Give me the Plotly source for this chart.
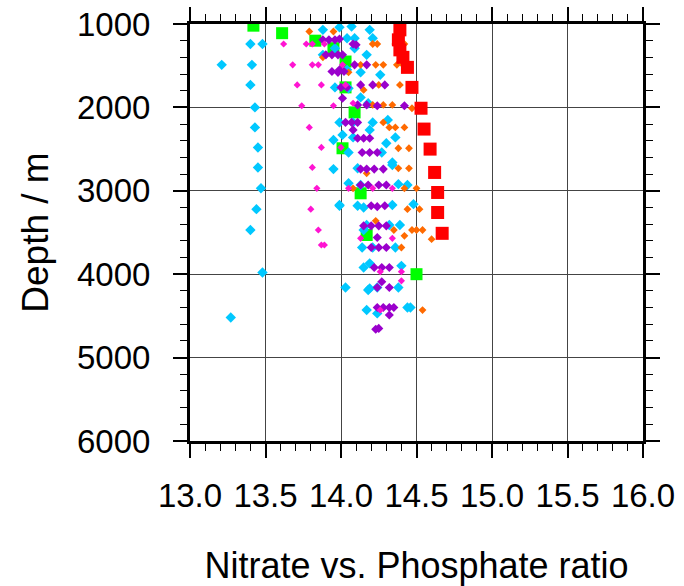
import plotly.graph_objects as go

# ratio values and depths
cyan_ratio = [13.40, 13.48, 13.21, 13.41, 13.40, 13.43, 13.43, 13.45, 13.45, 13.47, 13.44, 13.40, 13.48, 13.27,
              13.88, 13.88, 13.95, 13.99, 14.03,
              13.99, 14.07, 14.19, 14.04, 14.09, 14.21, 13.96, 14.09, 14.17, 14.04, 14.13, 14.26, 13.96, 14.05,
              14.13, 14.18, 13.99, 14.08, 14.21, 14.31, 14.19, 14.01, 14.08, 14.30, 14.36, 13.95, 14.05, 14.27,
              14.34, 14.11, 14.34, 14.05, 14.13, 14.38, 14.44, 13.99, 14.11, 14.15, 14.34, 14.48, 14.17, 14.32,
              14.39, 14.15, 14.14, 14.21, 14.36, 14.15, 14.19, 14.40, 14.19, 14.24, 14.38, 14.17, 14.24, 14.44,
              14.46, 14.18]
cyan_depth = [1240, 1240, 1490, 1490, 1730, 2000, 2240, 2480, 2720, 2970, 3220, 3470, 3980, 4520,
              1070, 1370, 2740, 3180, 4160,
              1040, 1030, 1070, 1170, 1170, 1170, 1290, 1290, 1370, 1550, 1580, 1610, 1760, 1770,
              1880, 1950, 2180, 2180, 2180, 2150, 2270, 2330, 2360, 2430, 2360, 2390, 2540, 2540,
              2660, 2730, 2690, 2910, 2930, 2920, 2930, 3170, 3180, 3200, 3170, 3160, 3410, 3410,
              3410, 3470, 3680, 3680, 3680, 3920, 3870, 3900, 4170, 4160, 4160, 4430, 4470, 4400,
              4400, 4190]

purple_ratio = [13.88, 13.92, 13.96, 13.99, 14.08, 14.10,
                13.90, 13.94, 13.98, 14.01,
                14.09, 14.17, 13.99, 13.94, 13.98, 14.02,
                14.00, 14.04, 14.13, 14.21, 14.29,
                14.01, 14.11, 14.17, 14.24, 14.42,
                14.03, 14.07, 14.11, 14.08, 14.11, 14.15, 14.19, 14.14, 14.19, 14.24,
                14.13, 14.17, 14.22, 14.28, 14.13, 14.18, 14.25, 14.30,
                14.20, 14.24, 14.29, 14.15, 14.20, 14.25, 14.30, 14.24,
                14.20, 14.25, 14.30, 14.22, 14.27, 14.32, 14.27, 14.24, 14.32,
                14.24, 14.28, 14.32, 14.35, 14.32, 14.23, 14.25]
purple_depth = [1190, 1190, 1190, 1180, 1240, 1250,
                1370, 1370, 1370, 1370,
                1490, 1490, 1550, 1570, 1580, 1570,
                1760, 1760, 1730, 1730, 1730,
                1890, 1970, 1970, 1980, 1980,
                2180, 2180, 2180, 2270, 2370, 2370, 2370, 2540, 2540, 2540,
                2740, 2740, 2740, 2740, 2930, 2930, 2930, 2930,
                3180, 3190, 3180, 3420, 3420, 3420, 3420, 3560,
                3680, 3680, 3680, 3920, 3920, 3920, 4090, 4160, 4160,
                4400, 4400, 4400, 4400, 4490, 4660, 4650]

magenta_ratio = [13.62, 13.77, 13.81, 13.89, 13.68, 13.81, 13.85, 13.71, 13.87, 13.74, 13.95, 13.79, 13.87,
                 14.00, 14.03, 13.81, 13.84, 13.80, 13.85, 13.87, 13.89, 14.05, 14.01, 14.08, 14.21, 14.34,
                 14.13, 14.34, 14.26, 14.40, 14.40, 14.26]
magenta_depth = [1240, 1240, 1240, 1240, 1490, 1490, 1490, 1730, 1730, 1980, 1980, 2240, 2480,
                 2480, 1730, 2720, 2970, 3220, 3470, 3650, 3650, 2970, 1490, 1950, 2970, 2970,
                 3570, 3570, 3970, 3970, 4080, 4430]

orange_ratio = [13.79, 13.95, 13.88, 14.21, 14.24, 14.36, 14.42, 14.13, 14.23, 14.28, 14.37, 14.41, 14.05,
                14.15, 14.21, 14.25, 14.39, 14.46, 14.21, 14.28, 14.34, 14.47, 14.52, 14.28, 14.32, 14.36,
                14.42, 14.38, 14.45, 14.38, 14.45, 14.17, 14.08, 14.42, 14.50, 14.44, 14.52, 14.23, 14.35,
                14.47, 14.50, 14.54, 14.42, 14.60, 14.40, 14.54]
orange_depth = [1090, 1090, 1400, 1240, 1240, 1240, 1240, 1490, 1490, 1490, 1490, 1490, 1580,
                1790, 1730, 1730, 1730, 1730, 1970, 1970, 1970, 2010, 2010, 2180, 2240, 2240,
                2240, 2490, 2490, 2730, 2730, 2790, 2970, 2970, 2970, 3220, 3220, 3360, 3470,
                3470, 3470, 3470, 3540, 3580, 3680, 4430]

green_ratio = [13.42, 13.61, 13.83, 13.95, 14.03, 14.03, 14.09, 14.01, 14.13, 14.17, 14.50]
green_depth = [1020, 1110, 1200, 1290, 1450, 1760, 2060, 2490, 3030, 3530, 4000]

red_ratio = [14.39, 14.38, 14.39, 14.41, 14.44, 14.47, 14.53, 14.55, 14.59, 14.62, 14.64, 14.64, 14.67]
red_depth = [1070, 1190, 1310, 1400, 1520, 1760, 2010, 2260, 2500, 2780, 3020, 3260, 3510]

x_ticks = [13.0, 13.5, 14.0, 14.5, 15.0, 15.5, 16.0]
y_ticks = [1000, 2000, 3000, 4000, 5000, 6000]

series = [
    (green_ratio, green_depth, "#00ff00", "square", 12),
    (cyan_ratio, cyan_depth, "#00c8ff", "diamond", 8),
    (orange_ratio, orange_depth, "#ff6a00", "diamond", 6),
    (purple_ratio, purple_depth, "#9a00cc", "diamond", 7),
    (magenta_ratio, magenta_depth, "#ff14d2", "diamond", 5.5),
    (red_ratio, red_depth, "#ff0000", "square", 13),
]

fig = go.Figure()
for xs, ys, col, sym, size in series:
    fig.add_trace(go.Scatter(x=xs, y=ys, mode="markers",
                             marker=dict(color=col, symbol=sym, size=size, line=dict(width=0))))

font_name = "Liberation Sans, Arial, sans-serif"
axis_common = dict(
    showline=True, linewidth=3, linecolor="black", mirror="allticks",
    ticks="outside", ticklen=14, tickwidth=1.5, tickcolor="black",
    showgrid=True, gridcolor="#444444", gridwidth=1.2, zeroline=False,
    tickfont=dict(family=font_name, size=33, color="black"),
    automargin=False,
)

fig.update_xaxes(range=[13.0, 16.0], tickvals=x_ticks, ticktext=[f"{v:.1f}" for v in x_ticks],
                 ticklabelstandoff=9,
                 minor=dict(dtick=0.1, ticks="outside", ticklen=7, tickwidth=1.2, tickcolor="black", showgrid=False),
                 title=dict(text="Nitrate vs. Phosphate ratio", font=dict(family=font_name, size=36, color="black"),
                            standoff=42),
                 **axis_common)
fig.update_yaxes(range=[6000, 1000], tickvals=y_ticks, ticklabelstandoff=16,
                 minor=dict(dtick=200, ticks="outside", ticklen=7, tickwidth=1.2, tickcolor="black", showgrid=False),
                 title=dict(text="Depth / m", font=dict(family=font_name, size=37, color="black"), standoff=18),
                 **axis_common)

fig.update_layout(
    width=684, height=586,
    margin=dict(l=190, r=41, t=24, b=145),
    plot_bgcolor="white", paper_bgcolor="white",
    showlegend=False,
)

# drop the default page margin so the figure sits at the window's corner
fig.write_html("out.html", config={"displayModeBar": False},
               post_script="document.body.style.margin='0';")
